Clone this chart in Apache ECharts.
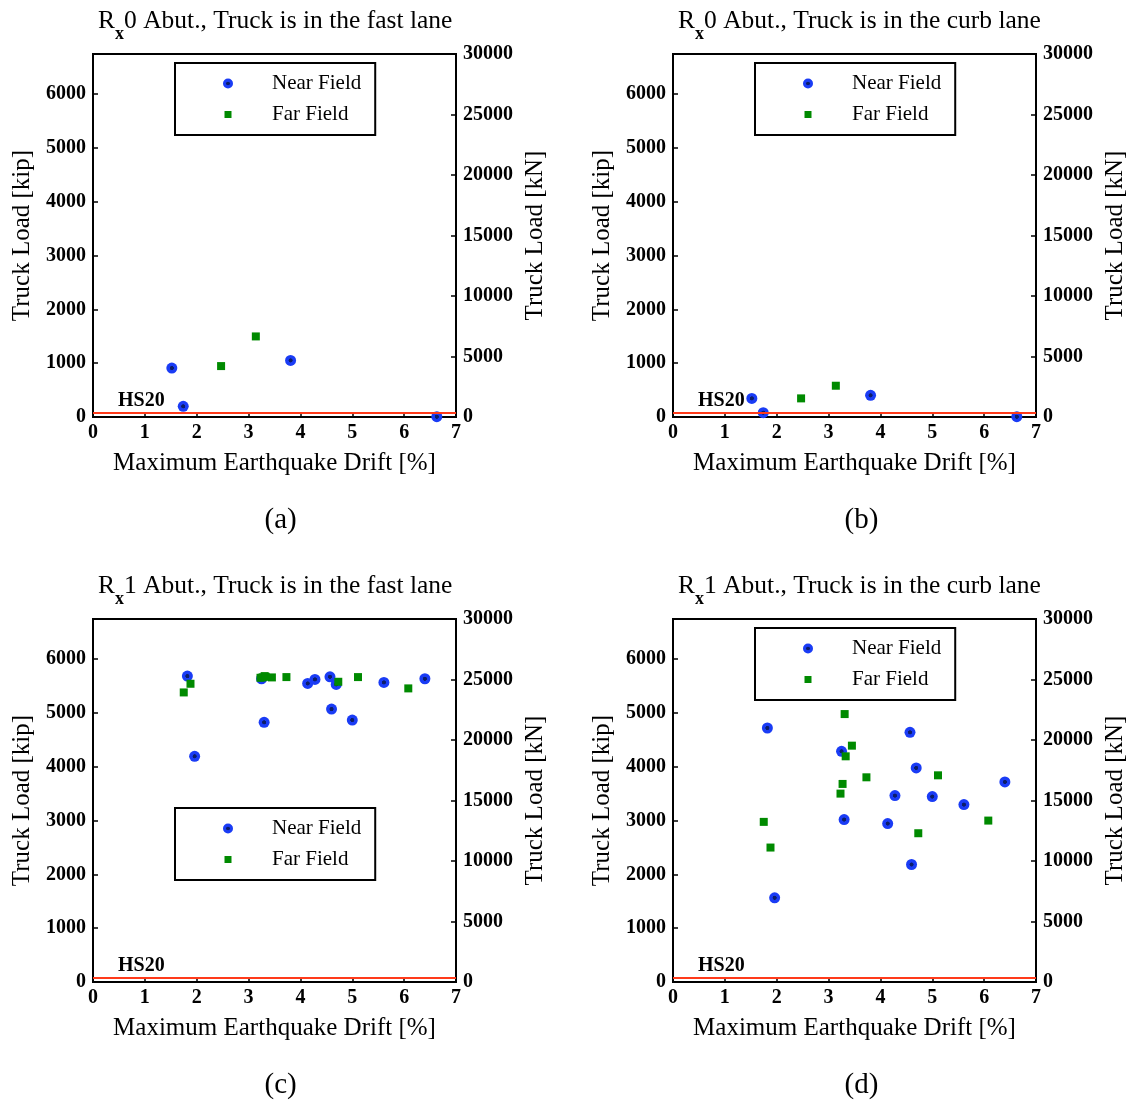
<!DOCTYPE html>
<html>
<head>
<meta charset="utf-8">
<script src="https://cdn.jsdelivr.net/npm/echarts@6/dist/echarts.min.js"></script>
<style>
  html, body { margin: 0; padding: 0; background: #fff; }
  #chart { width: 1132px; height: 1103px; }
</style>
</head>
<body>
<div id="chart"></div>
<script>
// ---------- data ----------
const xTickValues = [0, 1, 2, 3, 4, 5, 6, 7];
const kipTickStep = 1000;
const knTickStep = 5000;
const knMax = 30000;
const KN_PER_KIP = 4.448222;
const HS20_KIP = 72;

const panelTitles = [
  'fast lane', 'curb lane', 'fast lane', 'curb lane'
];
const abutTags = ['0', '0', '1', '1'];
const captions = ['(a)', '(b)', '(c)', '(d)'];

// Rx0 abutment (panels a, b)
const rx0NearDrift = [1.52, 1.74, 3.81, 6.63];
const rx0FarDrift = [2.47, 3.14];
const aNearLoad = [909, 198, 1051, 5];
const aFarLoad = [946, 1497];
const bNearLoad = [346, 80, 402, 5];
const bFarLoad = [346, 581];

// Rx1 abutment (panels c, d)
const rx1NearDrift = [1.82, 1.96, 3.25, 3.30, 4.14, 4.28, 4.57, 4.60, 4.69, 5.00, 5.61, 6.40];
const rx1FarDrift = [1.75, 1.88, 3.23, 3.27, 3.31, 3.33, 3.45, 3.73, 4.73, 5.11, 6.08];
const cNearLoad = [5683, 4193, 5634, 4824, 5547, 5622, 5671, 5071, 5529, 4867, 5566, 5634];
const cFarLoad = [5380, 5541, 5652, 5660, 5683, 5670, 5659, 5665, 5578, 5665, 5455];
const dNearLoad = [4719, 1565, 4286, 3018, 2944, 3463, 4638, 2183, 3977, 3445, 3296, 3717];
const dFarLoad = [2975, 2498, 3500, 3680, 4978, 4193, 4391, 3803, 2764, 3840, 2999];

// ---------- styling / layout ----------
const FONT = '"Liberation Serif", "Times New Roman", serif';
const BLUE = '#1a3cf5';
const DOT = '#0b1d6b';
const GREEN = '#008a00';
const RED = '#ff3a1a';

const nearFill = {
  type: 'radial', x: 0.5, y: 0.5, r: 0.5,
  colorStops: [
    { offset: 0, color: DOT }, { offset: 0.32, color: DOT },
    { offset: 0.42, color: BLUE }, { offset: 1, color: BLUE }
  ]
};

const panels = [
  { left: 93, top: 54, near: [rx0NearDrift, aNearLoad], far: [rx0FarDrift, aFarLoad], legendTop: 63 },
  { left: 673, top: 54, near: [rx0NearDrift, bNearLoad], far: [rx0FarDrift, bFarLoad], legendTop: 63 },
  { left: 93, top: 619, near: [rx1NearDrift, cNearLoad], far: [rx1FarDrift, cFarLoad], legendTop: 808 },
  { left: 673, top: 619, near: [rx1NearDrift, dNearLoad], far: [rx1FarDrift, dFarLoad], legendTop: 628 }
];
const W = 363, H = 363;

const zip = (xs, ys) => xs.map((x, i) => [x, ys[i]]);
const plain = v => String(Math.round(v));

const option = {
  animation: false,
  backgroundColor: '#fff',
  textStyle: { fontFamily: FONT, color: '#000' },
  title: [], grid: [], xAxis: [], yAxis: [], legend: [], series: [], graphic: []
};

panels.forEach((p, i) => {
  option.grid.push({
    left: p.left, top: p.top, width: W, height: H,
    show: true, borderColor: '#000', borderWidth: 2, backgroundColor: '#fff'
  });
  option.xAxis.push({
    gridIndex: i, type: 'value', min: xTickValues[0], max: xTickValues[xTickValues.length - 1], interval: 1,
    name: 'Maximum Earthquake Drift [%]', nameLocation: 'middle', nameGap: 34,
    nameTextStyle: { fontFamily: FONT, fontSize: 25, color: '#000' },
    axisLine: { lineStyle: { color: '#000', width: 2 } },
    axisTick: { inside: true, length: 5, lineStyle: { color: '#000', width: 1.5 } },
    axisLabel: { margin: 6, formatter: plain, fontFamily: FONT, fontSize: 20, fontWeight: 'bold', color: '#000' },
    splitLine: { show: false }
  });
  option.yAxis.push({
    gridIndex: i, type: 'value', position: 'left', min: 0, max: knMax / KN_PER_KIP, interval: kipTickStep,
    name: 'Truck Load [kip]', nameLocation: 'middle', nameGap: 58,
    nameTextStyle: { fontFamily: FONT, fontSize: 25, color: '#000' },
    axisLine: { show: true, lineStyle: { color: '#000', width: 2 } },
    axisTick: { show: true, inside: true, length: 5, lineStyle: { color: '#000', width: 1.5 } },
    axisLabel: { margin: 7, showMaxLabel: false, formatter: plain, fontFamily: FONT, fontSize: 20, fontWeight: 'bold', color: '#000' },
    splitLine: { show: false }
  });
  option.yAxis.push({
    gridIndex: i, type: 'value', position: 'right', min: 0, max: knMax, interval: knTickStep,
    name: 'Truck Load [kN]', nameLocation: 'middle', nameGap: 67,
    nameTextStyle: { fontFamily: FONT, fontSize: 25, color: '#000' },
    axisLine: { show: true, lineStyle: { color: '#000', width: 2 } },
    axisTick: { show: true, inside: true, length: 5, lineStyle: { color: '#000', width: 1.5 } },
    axisLabel: { margin: 7, formatter: plain, fontFamily: FONT, fontSize: 20, fontWeight: 'bold', color: '#000' },
    splitLine: { show: false }
  });
  option.title.push({
    left: p.left + 5, top: p.top - 46, padding: 0,
    text: '{r|R}{s|x}{r|' + abutTags[i] + ' Abut., Truck is in the ' + panelTitles[i] + '}',
    textStyle: {
      fontWeight: 'normal',
      rich: {
        r: { fontFamily: FONT, fontSize: 25.5, fontWeight: 'normal', color: '#000', verticalAlign: 'top' },
        s: { fontFamily: FONT, fontSize: 18, fontWeight: 'bold', color: '#000', lineHeight: 35, verticalAlign: 'bottom' }
      }
    }
  });
  option.legend.push({
    orient: 'vertical', left: p.left + 82, top: p.legendTop,
    padding: [10, 14, 10, 48], itemGap: 10, itemWidth: 10, itemHeight: 10,
    borderColor: '#000', borderWidth: 2, borderRadius: 0, backgroundColor: '#fff',
    selectedMode: false,
    textStyle: { fontFamily: FONT, fontSize: 21, color: '#000', padding: [0, 0, 0, 34] },
    data: [
      { name: 'Near Field', icon: 'circle' },
      { name: 'Far Field', icon: 'path://M0,0M10,10M1.5,1.5L8.5,1.5L8.5,8.5L1.5,8.5Z' }
    ]
  });
  // HS20 reference line
  option.series.push({
    type: 'scatter', name: 'HS20', xAxisIndex: i, yAxisIndex: 2 * i, data: [], z: 1,
    markLine: {
      silent: true, symbol: 'none', animation: false,
      lineStyle: { color: RED, width: 2, type: 'solid' },
      label: {
        show: true, position: 'insideStartTop', formatter: 'HS20', distance: [25, 2],
        fontFamily: FONT, fontSize: 20, fontWeight: 'bold', color: '#000'
      },
      data: [{ yAxis: HS20_KIP }]
    }
  });
  option.series.push({
    type: 'scatter', name: 'Near Field', xAxisIndex: i, yAxisIndex: 2 * i, z: 3,
    symbol: 'circle', symbolSize: 11,
    itemStyle: { color: nearFill, opacity: 1 },
    data: zip(p.near[0], p.near[1])
  });
  option.series.push({
    type: 'scatter', name: 'Far Field', xAxisIndex: i, yAxisIndex: 2 * i, z: 4,
    symbol: 'rect', symbolSize: 8,
    itemStyle: { color: GREEN, opacity: 1 },
    data: zip(p.far[0], p.far[1])
  });
  option.graphic.push({
    type: 'text', left: p.left + W / 2 + 7 - 17, top: p.top + H + 89,
    style: { text: captions[i], fontFamily: FONT, fontSize: 29, fill: '#000' }
  });
});

const chart = echarts.init(document.getElementById('chart'), null, { renderer: 'canvas' });
chart.setOption(option);
</script>
</body>
</html>
